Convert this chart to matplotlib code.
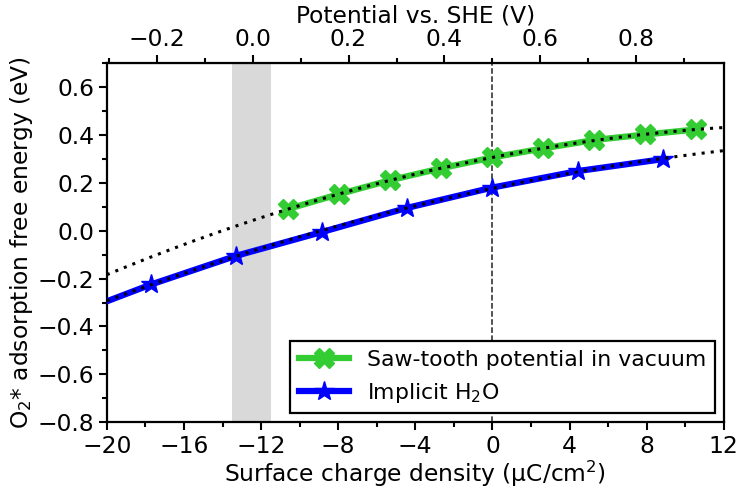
import numpy as np
import matplotlib
matplotlib.use("Agg")
import matplotlib.pyplot as plt
from matplotlib.ticker import MultipleLocator, FixedLocator

# Data
saw_x = [-10.58, -7.94, -5.29, -2.65, 0.0, 2.65, 5.29, 7.94, 10.58]
saw_y = [0.092, 0.154, 0.212, 0.262, 0.307, 0.345, 0.380, 0.403, 0.424]
h2o_x = [-22.13, -17.70, -13.28, -8.85, -4.43, 0.0, 4.43, 8.85]
h2o_y = [-0.360, -0.224, -0.104, -0.005, 0.096, 0.181, 0.250, 0.300]

pot_slope = 0.0402   # V per uC/cm2
pot_zero = 0.5       # V at zero charge
pot_ticks = [-0.2, 0.0, 0.2, 0.4, 0.6, 0.8]
band = (-13.5, -11.5)

plt.rcParams['font.family'] = 'DejaVu Sans'
plt.rcParams['font.size'] = 16.8

fig = plt.figure(figsize=(7.37, 4.92), dpi=100)
ax = fig.add_axes([0.145, 0.142, 0.837, 0.729])

ax.axvspan(band[0], band[1], color='#d9d9d9', zorder=0, lw=0)
ax.axvline(0, color='#222222', ls='--', lw=1.1, zorder=1)

xf = np.linspace(-20, 12, 200)
cs = np.polyfit(saw_x, saw_y, 2)
ch = np.polyfit(h2o_x[1:], h2o_y[1:], 2)

ax.plot(saw_x, saw_y, color='#33cc33', lw=4.5, marker='X', ms=14, zorder=3,
        label='Saw-tooth potential in vacuum')
ax.plot(h2o_x, h2o_y, color='#0000ff', lw=4.5, marker='*', ms=15, zorder=3,
        label='Implicit H$_2$O')
ax.plot(xf, np.polyval(cs, xf), color='black', ls=(0, (1, 2)), lw=2.2, zorder=4)
ax.plot(xf, np.polyval(ch, xf), color='black', ls=(0, (1, 2)), lw=2.2, zorder=4)

ax.set_xlim(-20, 12)
ax.set_ylim(-0.8, 0.7)
ax.xaxis.set_major_locator(MultipleLocator(4))
ax.xaxis.set_minor_locator(MultipleLocator(2))
ax.yaxis.set_major_locator(MultipleLocator(0.2))
ax.yaxis.set_minor_locator(MultipleLocator(0.1))
ax.tick_params(which='major', length=6, width=1.5, pad=3)
ax.tick_params(which='minor', length=3.5, width=1.5)
for s in ax.spines.values():
    s.set_linewidth(1.6)

ax.set_xlabel('Surface charge density (μC/cm$^2$)', labelpad=1)
ax.set_ylabel('O$_2$* adsorption free energy (eV)', labelpad=2)

sec = ax.secondary_xaxis('top', functions=(lambda x: pot_zero + pot_slope * x,
                                           lambda v: (v - pot_zero) / pot_slope))
sec.xaxis.set_major_locator(FixedLocator(pot_ticks))
sec.xaxis.set_minor_locator(FixedLocator([-0.3, -0.1, 0.1, 0.3, 0.5, 0.7, 0.9]))
sec.tick_params(which='major', length=6, width=1.5, pad=3)
sec.tick_params(which='minor', length=3.5, width=1.5)
sec.set_xlabel('Potential vs. SHE (V)', labelpad=4)

leg = ax.legend(loc='lower right', fancybox=False, edgecolor='black',
                framealpha=1, borderaxespad=0.4, handlelength=2.3,
                fontsize=15.8)
leg.get_frame().set_linewidth(1.6)

fig.savefig('out.png', dpi=100)
